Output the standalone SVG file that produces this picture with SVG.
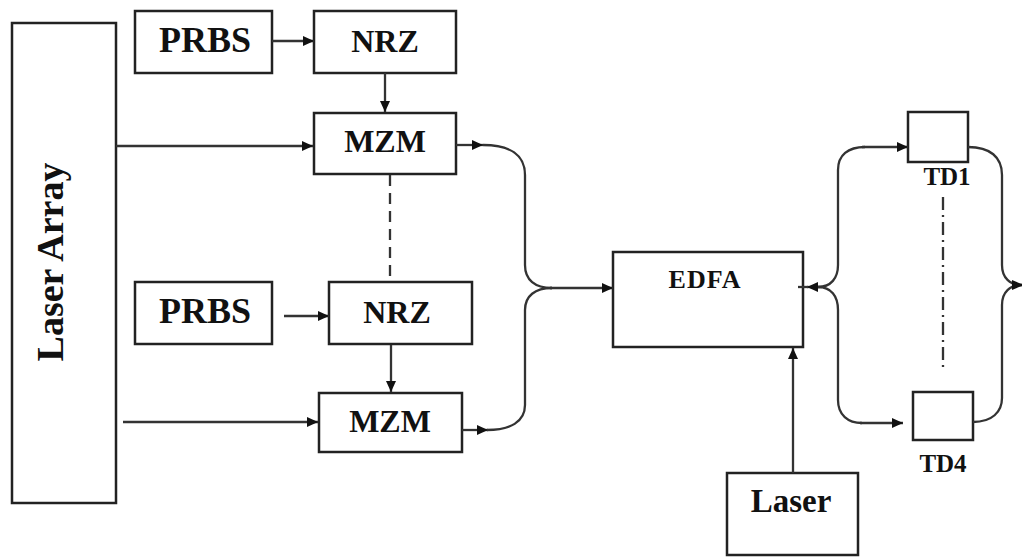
<svg xmlns="http://www.w3.org/2000/svg" width="1022" height="557" viewBox="0 0 1022 557">
<style>
.box{fill:#fff;stroke:#222;stroke-width:2.5}
.lbl{font-family:'Liberation Serif','Times New Roman',serif;font-weight:700;fill:#111;text-anchor:middle}
.ln{fill:none;stroke:#333;stroke-width:2.3}
.arr{fill:none;stroke:#333;stroke-width:2.3;marker-end:url(#ah)}
</style>
<defs>
<marker id="ah" markerUnits="userSpaceOnUse" markerWidth="12" markerHeight="10" refX="11" refY="5" orient="auto">
<path d="M0,0 L11,5 L0,10 Z" fill="#111"/>
</marker>
</defs>
<rect width="1022" height="557" fill="#fff"/>
<g id="laser-array"><rect class="box" x="12" y="23" width="104" height="480"/><text class="lbl" font-size="38" transform="translate(63,262) rotate(-90)">Laser Array</text></g>
<g id="prbs1"><rect class="box" x="135" y="11" width="137" height="62"/><text class="lbl" font-size="36" x="205" y="52">PRBS</text></g>
<g id="nrz1"><rect class="box" x="314" y="11" width="142" height="62"/><text class="lbl" font-size="32" x="385" y="52">NRZ</text></g>
<g id="mzm1"><rect class="box" x="314" y="113" width="142" height="61"/><text class="lbl" font-size="32" x="385" y="152">MZM</text></g>
<g id="prbs2"><rect class="box" x="135" y="282" width="137" height="62"/><text class="lbl" font-size="36" x="205" y="323">PRBS</text></g>
<g id="nrz2"><rect class="box" x="329" y="282" width="143" height="62"/><text class="lbl" font-size="32" x="397" y="323">NRZ</text></g>
<g id="mzm2"><rect class="box" x="319" y="393" width="143" height="59"/><text class="lbl" font-size="32" x="390" y="432">MZM</text></g>
<g id="edfa"><rect class="box" x="613" y="252" width="190" height="95"/><text class="lbl" font-size="26" x="705" y="288" letter-spacing="1">EDFA</text></g>
<g id="laser"><rect class="box" x="727" y="473" width="131" height="82"/><text class="lbl" font-size="33" x="791" y="512">Laser</text></g>
<g id="td1"><rect class="box" x="908" y="112" width="60" height="50"/><text class="lbl" font-size="25" x="947" y="185">TD1</text></g>
<g id="td4"><rect class="box" x="913" y="392" width="60" height="48"/><text class="lbl" font-size="25" x="943" y="472">TD4</text></g>
<g id="connectors">
<path class="arr" d="M272,41 L314,41"/>
<path class="arr" d="M385,73 L385,112"/>
<path class="arr" d="M116,146 L313,146"/>
<path class="arr" d="M284,316 L329,316"/>
<path class="arr" d="M391,345 L391,392"/>
<path class="arr" d="M123,422 L318,422"/>
<path class="ln" d="M390,175 L390,280" stroke-dasharray="11,7"/>
<path class="arr" d="M456,145 L483,145"/>
<path class="arr" d="M462,430 L488,430"/>
<path class="ln" d="M483,145 C510,145 525,155 525,175 L525,265 C525,280 535,288 552,288"/>
<path class="ln" d="M552,288 C535,288 525,296 525,310 L525,405 C525,422 510,430 487,430"/>
<path class="arr" d="M550,288 L613,288"/>
<path class="arr" d="M793,473 L793,348"/>
<path class="arr" d="M822,287 L807,287"/>
<path class="ln" d="M798,287 L808,287"/>
<path class="ln" d="M818,287 C831,287 838,278 838,265 L838,170 C838,155 848,147 865,147"/>
<path class="arr" d="M862,147 L908,147"/>
<path class="ln" d="M818,287 C831,287 838,296 838,310 L838,400 C838,415 848,423 862,423"/>
<path class="arr" d="M860,423 L903,423"/>
<path class="ln" d="M968,147 C990,147 1002,157 1002,175 L1002,265 C1002,278 1010,285 1022,285"/>
<path class="ln" d="M973,422 C992,422 1002,412 1002,398 L1002,305 C1002,292 1010,285 1022,285"/>
<path d="M1012,280 L1024,285 L1012,290 Z" fill="#111"/>
<path class="ln" d="M943,197 L943,367" stroke-dasharray="13,5,2,5"/>
</g>
</svg>
